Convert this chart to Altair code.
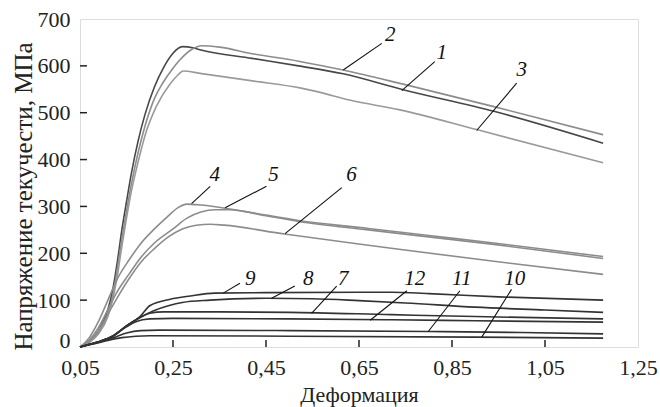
import altair as alt
import pandas as pd

# ---- curve data (strain, flow stress MPa) ----
x1 = [0.05,0.07,0.09,0.11,0.12,0.13,0.14,0.15,0.16,0.175,0.19,0.21,0.23,0.25,0.27,0.295,0.31,0.42,0.52,0.616,0.745,0.94,1.175]
y1 = [0,12,35,80,120,180,250,310,368,440,497,555,597,627,641,638,634,616,600,583,549,503,435]
x2 = [0.05,0.07,0.09,0.11,0.12,0.13,0.14,0.15,0.16,0.175,0.19,0.21,0.229,0.25,0.265,0.29,0.312,0.35,0.42,0.52,0.616,0.745,0.94,1.175]
y2 = [0,10,30,70,108,165,230,290,345,415,472,530,565,595,613,635,643,640,626,610,591,561,513,453]
x3 = [0.05,0.07,0.09,0.11,0.12,0.13,0.14,0.15,0.16,0.175,0.19,0.215,0.244,0.26,0.272,0.308,0.42,0.523,0.56,0.63,0.738,0.903,1.175]
y3 = [0,10,28,65,100,150,215,275,330,395,452,515,562,580,589,584,568,553,545,527,506,464,393]
x4 = [0.05,0.07,0.09,0.11,0.13,0.155,0.18,0.21,0.24,0.26,0.28,0.31,0.4,0.52,0.67,0.8,0.94,1.175]
y4 = [0,20,55,100,145,185,220,252,280,297,305,303,290,270,253,238,222,193]
x5 = [0.05,0.07,0.09,0.11,0.13,0.155,0.18,0.21,0.25,0.28,0.31,0.34,0.37,0.45,0.52,0.67,0.8,0.94,1.175]
y5 = [0,15,42,80,118,155,190,222,252,275,288,293,293,280,268,250,235,219,189]
x6 = [0.05,0.07,0.09,0.11,0.13,0.155,0.18,0.21,0.24,0.27,0.3,0.33,0.36,0.49,0.67,0.74,0.94,1.175]
y6 = [0,12,35,70,105,145,180,210,235,252,260,262,260,241,217,208,183,155]
x7 = [0.05,0.086,0.122,0.15,0.179,0.2,0.23,0.35,0.5,0.72,0.9,1.175]
y7 = [0,10,24,45,63,72,75,75,74,69,65,60]
x8 = [0.05,0.086,0.122,0.15,0.179,0.21,0.24,0.27,0.33,0.45,0.55,0.65,0.75,0.9,1.05,1.175]
y8 = [0,10,24,45,63,78,88,95,100,104,103,99,94,85,79,74]
x9 = [0.05,0.086,0.122,0.15,0.179,0.2,0.244,0.287,0.34,0.45,0.65,0.72,0.8,0.95,1.175]
y9 = [0,10,24,45,65,88,102,109,115,116,117,117,114,107,100]
x10 = [0.05,0.086,0.11,0.14,0.17,0.2,0.5,0.9,1.175]
y10 = [0,8,14,20,23,24,23,21,19]
x11 = [0.05,0.086,0.122,0.15,0.18,0.22,0.5,0.8,1.0,1.175]
y11 = [0,9,20,30,35,36,35,33,31,28]
x12 = [0.05,0.086,0.122,0.15,0.17,0.2,0.25,0.5,0.72,0.9,1.175]
y12 = [0,10,24,43,54,60,61,60,58,56,53]

curve_names = ["1","2","3","4","5","6","7","8","9","10","11","12"]
curve_colors = ["#474747","#8c8c8c","#9a9a9a","#8c8c8c","#8c8c8c","#8c8c8c",
                "#333333","#333333","#333333","#333333","#333333","#333333"]

# ---- curve labels and leader lines ----
lab_text = ["2","1","3","4","5","6","9","8","7","12","11","10"]
lab_x = [0.717,0.828,1.0,0.34,0.466,0.634,0.416,0.541,0.616,0.77,0.871,0.985]
lab_y = [666,627,591,368,368,368,145,145,145,145,145,145]
lead_x1 = [0.699,0.813,0.989,0.330,0.451,0.613,0.394,0.512,0.602,0.753,0.867,0.978]
lead_y1 = [648,609,563,343,343,340,136,130,130,120,120,123]
lead_x2 = [0.616,0.742,0.903,0.290,0.362,0.491,0.358,0.462,0.548,0.674,0.799,0.914]
lead_y2 = [591,547,462,306,297,242,115,104,72,57,33,21]

x_ticks = [0.05,0.25,0.45,0.65,0.85,1.05,1.25]
y_ticks = [0,100,200,300,400,500,600,700]
x_inner_ticks = [0.25,0.45,0.65,0.85,1.05]
y_inner_ticks = [100,200,300,400,500,600]

xs = [x1,x2,x3,x4,x5,x6,x7,x8,x9,x10,x11,x12]
ys = [y1,y2,y3,y4,y5,y6,y7,y8,y9,y10,y11,y12]
rows = []
for name, xv, yv in zip(curve_names, xs, ys):
    for i, (a, b) in enumerate(zip(xv, yv)):
        rows.append({"curve": name, "i": i, "x": a, "y": b})
df = pd.DataFrame(rows)

labels_df = pd.DataFrame({"t": lab_text, "x": lab_x, "y": lab_y,
                          "x1": lead_x1, "y1": lead_y1, "x2": lead_x2, "y2": lead_y2})

FONT = "Liberation Serif, Times New Roman, Times, serif"
xscale = alt.Scale(domain=[0.05, 1.25], nice=False, zero=False)
yscale = alt.Scale(domain=[0, 700], nice=False, zero=False)

x_axis = alt.Axis(values=x_ticks, labelExpr="replace(format(datum.value, '.2f'), '.', ',')",
                  title="Деформация", titleFont=FONT, titleFontSize=22, titleFontWeight="normal",
                  titleColor="#222", titleX=279, titleY=47, titleBaseline="middle",
                  labelFont=FONT, labelFontSize=22, labelColor="#222", labelPadding=10,
                  ticks=False, tickSize=0, domain=False, grid=False, labelFlush=False)
y_axis = alt.Axis(values=y_ticks, title="Напряжение текучести, МПа", titleFont=FONT,
                  titleFontSize=25, titleFontWeight="normal", titleColor="#222",
                  titleAngle=270, titleX=-57, titleY=177, titleAlign="center", titleBaseline="middle",
                  labelFont=FONT, labelFontSize=22, labelColor="#222", labelPadding=10,
                  labelBaseline={"condition": {"test": "datum.value === 0", "value": "alphabetic"}, "value": "middle"},
                  ticks=False, tickSize=0, domain=False, grid=False, labelFlush=False)

lines = alt.Chart(df).mark_line(interpolate="monotone", strokeWidth=1.6).encode(
    x=alt.X("x:Q", scale=xscale, axis=x_axis),
    y=alt.Y("y:Q", scale=yscale, axis=y_axis),
    color=alt.Color("curve:N", scale=alt.Scale(domain=curve_names, range=curve_colors), legend=None),
    detail="curve:N",
    order="i:Q",
)

xt = alt.Chart(pd.DataFrame({"v": x_inner_ticks})).mark_rule(color="#222", strokeWidth=1.5).encode(
    x="v:Q", y=alt.datum(0), y2=alt.datum(15))
yt = alt.Chart(pd.DataFrame({"v": y_inner_ticks})).mark_rule(color="#222", strokeWidth=1.5).encode(
    y="v:Q", x=alt.datum(0.05), x2=alt.datum(0.065))

leaders = alt.Chart(labels_df).mark_rule(color="#111", strokeWidth=1.1).encode(
    x="x1:Q", y="y1:Q", x2="x2:Q", y2="y2:Q")
texts = alt.Chart(labels_df).mark_text(font=FONT, fontStyle="italic", fontSize=21,
                                       align="center", baseline="middle", color="#111").encode(
    x="x:Q", y="y:Q", text="t:N")

chart = alt.layer(lines, xt, yt, leaders, texts).properties(
    width=558, height=328,
    autosize=alt.AutoSizeParams(type="none"),
    padding={"left": 80, "top": 19, "right": 22, "bottom": 60},
).configure_view(stroke="#222", strokeWidth=1.6).configure(background="white")

chart.save("out.html", embed_options={"renderer": "svg", "actions": False})
